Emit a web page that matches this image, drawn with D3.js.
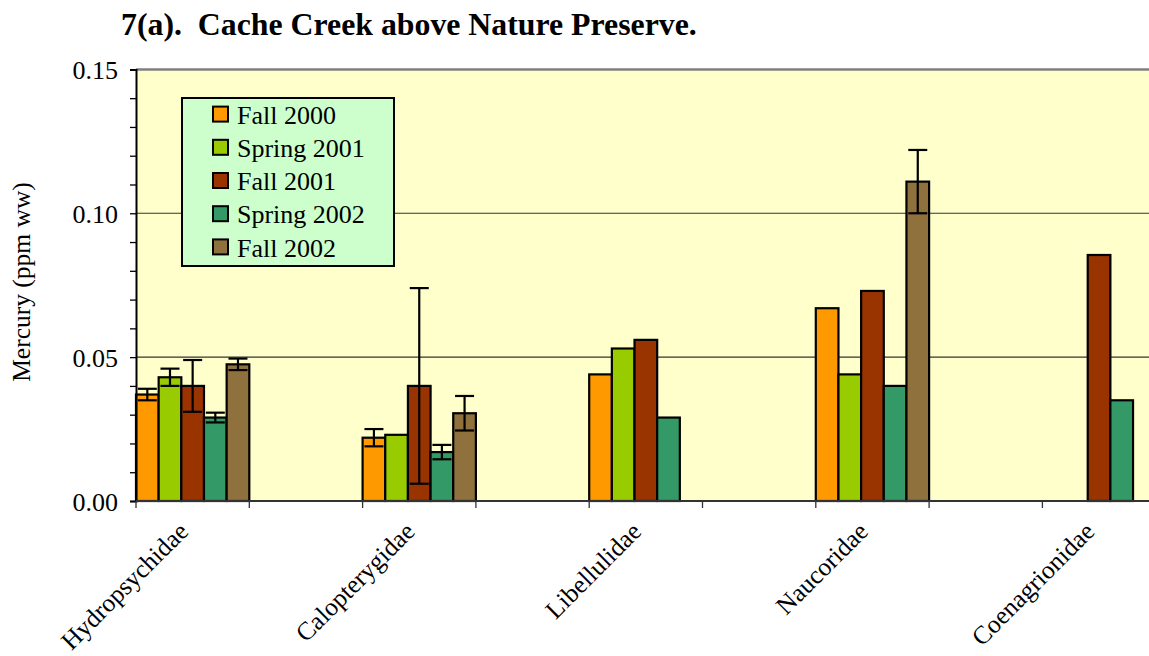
<!DOCTYPE html>
<html>
<head>
<meta charset="utf-8">
<script src="https://cdn.jsdelivr.net/npm/d3@7"></script>
<style>
  html, body { margin: 0; padding: 0; background: #fff; overflow: hidden; }
  svg text { font-family: "Liberation Serif", "DejaVu Serif", "Times New Roman", serif !important; fill: #000; }
</style>
</head>
<body>
<svg id="chart" width="1149" height="656" font-family="Liberation Serif, DejaVu Serif, serif"></svg>
<script>
// ---------- data ----------
const titleText = "7(a).\u00a0\u00a0Cache Creek above Nature Preserve.";
const yAxisTitle = "Mercury (ppm ww)";
const taxa = ["Hydropsychidae", "Calopterygidae", "Libellulidae", "Naucoridae", "Coenagrionidae"];
const seriesNames = ["Fall 2000", "Spring 2001", "Fall 2001", "Spring 2002", "Fall 2002"];
const seriesColors = ["#FF9900", "#99CC00", "#993300", "#339966", "#8F713D"];

const fall2000   = [0.037, 0.022, 0.044, 0.067, null];
const spring2001 = [0.043, 0.023, 0.053, 0.044, null];
const fall2001   = [0.040, 0.040, 0.056, 0.073, 0.0855];
const spring2002 = [0.029, 0.017, 0.029, 0.040, 0.035];
const fall2002   = [0.0475, 0.0305, null, 0.111, null];

const fall2000Err   = [0.002, 0.003, null, null, null];
const spring2001Err = [0.003, null, null, null, null];
const fall2001Err   = [0.009, 0.034, null, null, null];
const spring2002Err = [0.0017, 0.0025, null, null, null];
const fall2002Err   = [0.002, 0.006, null, 0.011, null];

const yTicks = [0, 0.05, 0.10, 0.15];
const yMinorStep = 0.01;

// ---------- build ----------
const FONT = '"Liberation Serif", "DejaVu Serif", serif';
const seriesValues = [fall2000, spring2001, fall2001, spring2002, fall2002];
const seriesErrors = [fall2000Err, spring2001Err, fall2001Err, spring2002Err, fall2002Err];

// Excel layout: taxa occupy alternate category slots, blank slots in between
const slots = d3.range(taxa.length * 2 - 1);
const slotOfTaxon = i => i * 2;

const svg = d3.select("#chart");
const plotLeft = 136, plotTop = 69.4, plotBottom = 501;
const slotWidth = 113.3;
const plotRight = plotLeft + slotWidth * slots.length;

const x = d3.scaleBand().domain(slots).range([plotLeft, plotRight]).paddingInner(0).paddingOuter(0);
const xs = d3.scaleBand().domain(d3.range(seriesNames.length)).range([0, x.bandwidth()]).padding(0);
const y = d3.scaleLinear().domain([0, 0.15]).range([plotBottom, plotTop]);

// plot background
svg.append("rect")
  .attr("x", plotLeft).attr("y", plotTop)
  .attr("width", plotRight - plotLeft).attr("height", plotBottom - plotTop)
  .attr("fill", "#FFFFCC");

// gridlines
svg.append("g").selectAll("line")
  .data(yTicks.filter(t => t > 0 && t < 0.15))
  .join("line")
  .attr("x1", plotLeft).attr("x2", plotRight)
  .attr("y1", d => y(d)).attr("y2", d => y(d))
  .attr("stroke", "#333").attr("stroke-width", 1.2);

// top border (gray)
svg.append("line")
  .attr("x1", plotLeft).attr("x2", plotRight + 10)
  .attr("y1", y(0.15)).attr("y2", y(0.15))
  .attr("stroke", "#808080").attr("stroke-width", 2.5);

// bars
const barData = [];
seriesValues.forEach((vals, s) => {
  vals.forEach((v, i) => {
    if (v != null) barData.push({ s, i, v, e: seriesErrors[s][i] });
  });
});

const gBars = svg.append("g");
gBars.selectAll("rect")
  .data(barData)
  .join("rect")
  .attr("x", d => x(slotOfTaxon(d.i)) + xs(d.s))
  .attr("y", d => y(d.v))
  .attr("width", xs.bandwidth())
  .attr("height", d => y(0) - y(d.v))
  .attr("fill", d => seriesColors[d.s])
  .attr("stroke", "#000")
  .attr("stroke-width", 2.2);

// error bars
const errData = barData.filter(d => d.e != null);
const capHalf = 9.5;
const gErr = svg.append("g").attr("stroke", "#000").attr("stroke-width", 2.2);
errData.forEach(d => {
  const cx = x(slotOfTaxon(d.i)) + xs(d.s) + xs.bandwidth() / 2;
  const yt = y(d.v + d.e), yb = y(d.v - d.e);
  gErr.append("line").attr("x1", cx).attr("x2", cx).attr("y1", yt).attr("y2", yb);
  gErr.append("line").attr("x1", cx - capHalf).attr("x2", cx + capHalf).attr("y1", yt).attr("y2", yt);
  gErr.append("line").attr("x1", cx - capHalf).attr("x2", cx + capHalf).attr("y1", yb).attr("y2", yb);
});

// y axis
const minorTicks = d3.range(0, 0.15 + 1e-9, yMinorStep);
const yAxis = d3.axisLeft(y).tickValues(minorTicks).tickSize(6)
  .tickFormat(d => yTicks.some(t => Math.abs(t - d) < 1e-9) ? d3.format(".2f")(d) : "");
const gy = svg.append("g").attr("transform", `translate(${plotLeft},0)`).call(yAxis);
gy.attr("font-family", FONT).attr("font-size", 26);
gy.select(".domain").attr("stroke", "#000").attr("stroke-width", 2);
gy.selectAll(".tick line").attr("stroke", "#000").attr("stroke-width", 1.3);
gy.selectAll(".tick text")
  .attr("x", -18).attr("dy", "0.35em")
  .attr("font-family", FONT)
  .style("font-family", FONT).style("font-size", "26px");

// x axis (ticks at slot boundaries)
const gx = svg.append("g");
gx.append("line")
  .attr("x1", plotLeft).attr("x2", plotRight)
  .attr("y1", plotBottom).attr("y2", plotBottom)
  .attr("stroke", "#333").attr("stroke-width", 2);
gx.selectAll("line.tick")
  .data(slots.concat([slots.length]))
  .join("line")
  .attr("class", "tick")
  .attr("x1", d => d < slots.length ? x(d) : plotRight)
  .attr("x2", d => d < slots.length ? x(d) : plotRight)
  .attr("y1", plotBottom).attr("y2", plotBottom + 7)
  .attr("stroke", "#333").attr("stroke-width", 1.3);

gx.selectAll("text.cat")
  .data(taxa)
  .join("text")
  .attr("class", "cat")
  .attr("transform", (d, i) => `translate(${x(slotOfTaxon(i)) + x.bandwidth() / 2 - 3},533) rotate(-45)`)
  .attr("text-anchor", "end")
  .attr("font-family", FONT)
  .style("font-family", FONT)
  .style("font-size", "25.5px")
  .text(d => d);

// y axis title
svg.append("text")
  .attr("transform", `translate(30,282) rotate(-90)`)
  .attr("text-anchor", "middle")
  .attr("font-family", FONT)
  .style("font-family", FONT)
  .style("font-size", "25.5px")
  .text(yAxisTitle);

// title
svg.append("text")
  .attr("x", 121).attr("y", 35)
  .attr("font-family", FONT)
  .style("font-family", FONT)
  .style("font-size", "31.8px").style("font-weight", "bold")
  .text(titleText);

// legend
const lg = svg.append("g");
lg.append("rect")
  .attr("x", 182).attr("y", 98)
  .attr("width", 212).attr("height", 168)
  .attr("fill", "#CCFFCC").attr("stroke", "#000").attr("stroke-width", 2);
const legendRow = d3.scaleBand().domain(d3.range(seriesNames.length)).range([98, 264]);
const li = lg.selectAll("g.item").data(seriesNames).join("g").attr("class", "item")
  .attr("transform", (d, i) => `translate(0,${legendRow(i) + legendRow.bandwidth() / 2})`);
li.append("rect")
  .attr("x", 213).attr("y", -8).attr("width", 15).attr("height", 15)
  .attr("fill", (d, i) => seriesColors[i]).attr("stroke", "#000").attr("stroke-width", 2);
li.append("text")
  .attr("x", 237).attr("y", 0).attr("dy", "0.35em")
  .attr("font-family", FONT)
  .style("font-family", FONT)
  .style("font-size", "26px")
  .text(d => d);
</script>
</body>
</html>
